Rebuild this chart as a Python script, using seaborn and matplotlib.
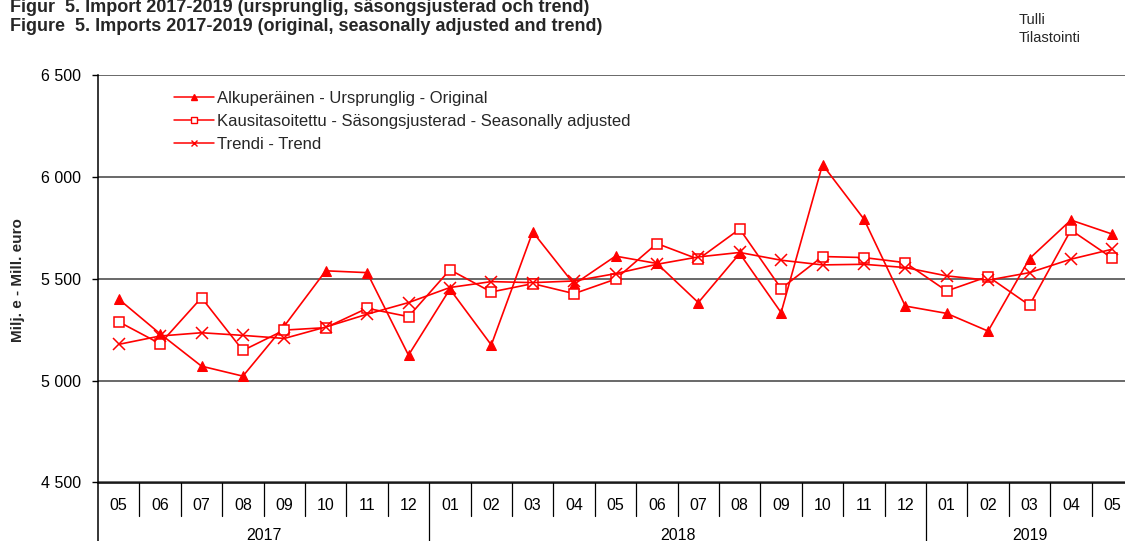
import numpy as np
import pandas as pd
import matplotlib
matplotlib.use("Agg")
import matplotlib.pyplot as plt
import matplotlib.transforms as mtransforms
from matplotlib.lines import Line2D
from matplotlib.ticker import FuncFormatter, FixedLocator
import seaborn as sns

# ---- data ----
months = ["05", "06", "07", "08", "09", "10", "11", "12",
          "01", "02", "03", "04", "05", "06", "07", "08", "09", "10", "11", "12",
          "01", "02", "03", "04", "05"]
years = ["2017"] * 8 + ["2018"] * 12 + ["2019"] * 5
original = [5400, 5230, 5071, 5022, 5268, 5539, 5530, 5125,
            5449, 5175, 5730, 5473, 5611, 5575, 5383, 5624, 5334, 6060, 5793, 5366,
            5330, 5243, 5599, 5788, 5719]
seas_adj = [5289, 5181, 5407, 5148, 5248, 5260, 5355, 5314,
            5544, 5435, 5476, 5427, 5498, 5673, 5596, 5744, 5452, 5609, 5604, 5579,
            5440, 5511, 5370, 5739, 5601]
trend = [5178, 5219, 5235, 5222, 5207, 5263, 5326, 5383,
         5457, 5486, 5481, 5489, 5525, 5571, 5607, 5629, 5591, 5568, 5571, 5555,
         5514, 5493, 5530, 5596, 5645]
labels = ["Alkuperäinen - Ursprunglig - Original",
          "Kausitasoitettu - Säsongsjusterad - Seasonally adjusted",
          "Trendi - Trend"]
yticks = [4500, 5000, 5500, 6000, 6500]

sns.set_theme(style="white")
plt.rcParams["font.family"] = ["Liberation Sans", "DejaVu Sans"]

W, H = 1125, 541
fig = plt.figure(figsize=(W / 100, H / 100), dpi=100)
ax = fig.add_axes([98 / W, 58.5 / H, 1035 / W, 407.5 / H])

idx = np.arange(len(months))
df = pd.DataFrame({"i": idx, "orig": original, "sa": seas_adj, "trend": trend})

red = "#FF0000"
sns.lineplot(data=df, x="i", y="orig", ax=ax, color=red, lw=1.2, marker="^",
             markersize=7.5, markeredgecolor=red, markerfacecolor=red, clip_on=False)
sns.lineplot(data=df, x="i", y="sa", ax=ax, color=red, lw=1.2, marker="s",
             markersize=6.7, markeredgecolor=red, markerfacecolor="white",
             markeredgewidth=1.1, clip_on=False)
sns.lineplot(data=df, x="i", y="trend", ax=ax, color=red, lw=1.2, marker="x",
             markersize=9, markeredgecolor=red, markeredgewidth=1.1, clip_on=False)

ax.set_xlim(-0.5, len(months) - 0.5)
ax.set_ylim(yticks[0], yticks[-1])
ax.yaxis.set_major_locator(FixedLocator(yticks))
ax.yaxis.set_major_formatter(FuncFormatter(lambda v, p: f"{int(v):,}".replace(",", " ")))
ax.set_xticks(idx)
ax.set_xticklabels(months)
ax.set_xlabel("")
ax.set_ylabel("")

ax.grid(False)
ax.yaxis.grid(True, color="#404040", lw=1.1)
for s in ["top", "right"]:
    ax.spines[s].set_visible(False)
for s in ["left", "bottom"]:
    ax.spines[s].set_color("black")
    ax.spines[s].set_linewidth(1.1)

ax.tick_params(axis="y", left=True, direction="out", length=4.3, width=1,
               color="black", pad=8, labelsize=11.5, labelcolor="black")
ax.tick_params(axis="x", bottom=False, length=0, pad=11, labelsize=11.5,
               labelcolor="black")

# category separators below the axis
trans = mtransforms.blended_transform_factory(ax.transData, ax.transAxes)
ax.plot([-0.5, -0.5], [0, -0.2], transform=trans, clip_on=False, color="black", lw=1.1)
for i in range(len(months) - 1):
    x = i + 0.5
    y1 = -0.2 if years[i] != years[i + 1] else -0.083
    ax.plot([x, x], [0, y1], transform=trans, clip_on=False, color="black", lw=0.9)

# year labels
for yr in dict.fromkeys(years):
    pos = [i for i, y in enumerate(years) if y == yr]
    ax.text(np.mean(pos), -0.129, yr, transform=trans, ha="center", va="center",
            fontsize=11.5, color="black")

# legend
handles = [
    Line2D([], [], color=red, lw=1.1, marker="^", markersize=5, markerfacecolor=red, markeredgecolor=red),
    Line2D([], [], color=red, lw=1.1, marker="s", markersize=4.5, markerfacecolor="white",
           markeredgecolor=red, markeredgewidth=1),
    Line2D([], [], color=red, lw=1.1, marker="x", markersize=5, markeredgecolor=red, markeredgewidth=1),
]
ax.legend(handles, labels, loc="upper left", bbox_to_anchor=(0.0734, 0.960),
          frameon=False, fontsize=12, handlelength=2.4, handletextpad=0.2,
          labelspacing=0.48, borderpad=0, borderaxespad=0)

# texts
fig.text(10 / W, 1 - 8 / H, "Figur  5. Import 2017-2019 (ursprunglig, säsongsjusterad och trend)",
         fontsize=13, fontweight="bold", va="center", ha="left")
fig.text(10 / W, 1 - 26.5 / H, "Figure  5. Imports 2017-2019 (original, seasonally adjusted and trend)",
         fontsize=13, fontweight="bold", va="center", ha="left")
fig.text(1019 / W, 1 - 19.5 / H, "Tulli", fontsize=10.5, va="center", ha="left")
fig.text(1019 / W, 1 - 38.5 / H, "Tilastointi", fontsize=10.5, va="center", ha="left")
fig.text(18 / W, 1 - 280 / H, "Milj. e - Mill. euro", rotation=90, fontsize=11,
         fontweight="bold", va="center", ha="center")

fig.savefig("out.png", dpi=100)
